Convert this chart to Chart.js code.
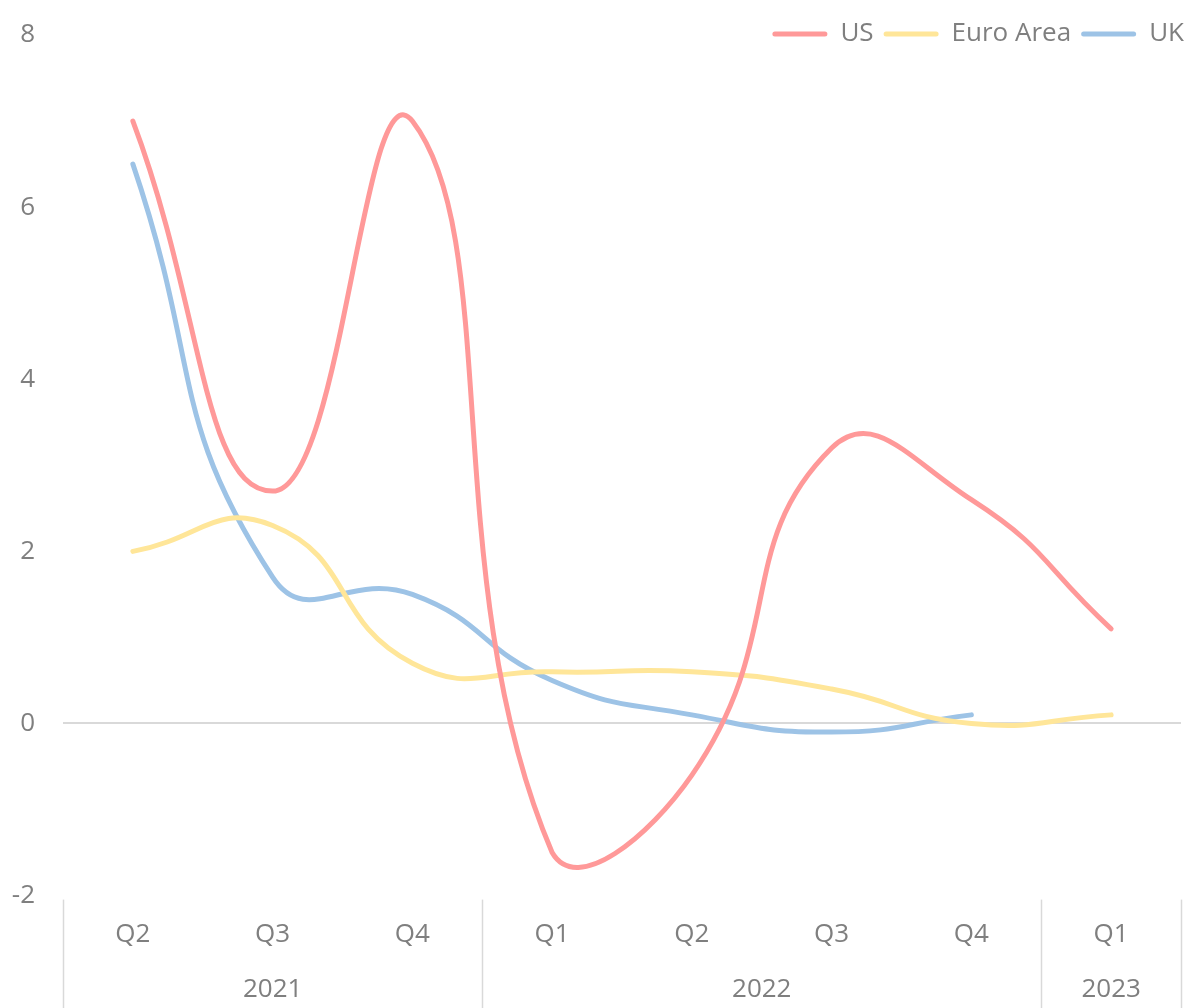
<!DOCTYPE html>
<html>
<head>
<meta charset="utf-8">
<script src="https://cdn.jsdelivr.net/npm/chart.js@4"></script>
<style>
  html, body { margin: 0; padding: 0; background: #fff; }
  #wrap { width: 1194px; height: 1008px; }
</style>
</head>
<body>
<div id="wrap"><canvas id="gdpChart"></canvas></div>
<script>
// quarters and the year groups they belong to
const quarters = ['Q2', 'Q3', 'Q4', 'Q1', 'Q2', 'Q3', 'Q4', 'Q1'];
const years = ['2021', '2022', '2023'];
const yearSizes = [3, 4, 1];

// growth, % (annualised)
const usValues = [7.0, 2.7, 7.0, -1.5, -0.6, 3.2, 2.6, 1.1];
const euroValues = [2.0, 2.3, 0.7, 0.6, 0.6, 0.4, 0.0, 0.1];
const ukValues = [6.5, 1.7, 1.5, 0.5, 0.1, -0.1, 0.1, null];

const yTicks = [-2, 0, 2, 4, 6, 8];

const textColor = '#7f7f7f';
const lineColor = '#d9d9d9';
const fontFamily = '"Open Sans", "Noto Sans", sans-serif';
const fontSize = 26;

// centres and edges of each year group, in category units
let yearCentres = [];
let yearEdges = [-0.5];
let start = 0;
yearSizes.forEach(n => {
    yearCentres.push(start + (n - 1) / 2);
    start += n;
    yearEdges.push(start - 0.5);
});

// vertical separators between the year groups, below the plot
const separators = {
    id: 'separators',
    afterDraw(chart) {
        const x = chart.scales.x;
        const ctx = chart.ctx;
        ctx.save();
        ctx.strokeStyle = lineColor;
        ctx.lineWidth = 1.5;
        yearEdges.forEach(e => {
            const px = Math.round(x.getPixelForValue(e)) + 0.5;
            ctx.beginPath();
            ctx.moveTo(px, chart.chartArea.bottom + 4);
            ctx.lineTo(px, chart.height);
            ctx.stroke();
        });
        ctx.restore();
    }
};

// let the legend sit beside the top of the plot instead of above it
const legendOverlap = {
    id: 'legendOverlap',
    beforeInit(chart) {
        const fit = chart.legend.fit;
        chart.legend.fit = function () {
            fit.call(this);
            this._fullHeight = this.height;
            this.height = 27;
        };
    },
    afterLayout(chart) {
        const lg = chart.legend;
        lg.top = 11;
        lg.height = lg._fullHeight;
        lg.bottom = lg.top + lg.height;
    }
};

function makeSet(label, data, color) {
    return {
        label: label,
        data: data,
        borderColor: color,
        backgroundColor: color,
        borderWidth: 5,
        borderCapStyle: 'round',
        pointRadius: 0,
        tension: 0.5,
        fill: false
    };
}

const config = {
    type: 'line',
    data: {
        labels: quarters,
        datasets: [
            makeSet('US', usValues, '#ff9999'),
            makeSet('Euro Area', euroValues, '#ffe699'),
            makeSet('UK', ukValues, '#9dc3e6')
        ]
    },
    options: {
        responsive: true,
        maintainAspectRatio: false,
        animation: false,
        layout: { padding: { left: 0, right: 0, top: 8, bottom: 2 } },
        plugins: {
            legend: {
                position: 'top',
                align: 'end',
                labels: {
                    boxWidth: 55,
                    boxHeight: 5,
                    useBorderRadius: true,
                    borderRadius: 2.5,
                    padding: 10,
                    color: textColor,
                    font: { family: fontFamily, size: fontSize },
                    generateLabels(chart) {
                        const items = Chart.defaults.plugins.legend.labels.generateLabels(chart);
                        items.forEach(i => { i.lineWidth = 0; });
                        return items;
                    }
                }
            },
            tooltip: { enabled: false }
        },
        scales: {
            y: {
                min: -2,
                max: 8,
                afterBuildTicks(scale) {
                    scale.ticks = yTicks.map(v => ({ value: v }));
                },
                afterFit(scale) {
                    scale.width = 63;
                    scale.paddingTop = 16;
                    scale.paddingBottom = 16;
                },
                grid: {
                    drawTicks: false,
                    color: ctx => ctx.tick && ctx.tick.value === 0 ? lineColor : 'transparent',
                    lineWidth: 2
                },
                border: { display: false },
                ticks: {
                    padding: 28,
                    color: textColor,
                    font: { family: fontFamily, size: fontSize }
                }
            },
            // empty strip on the right, keeps the plot off the edge
            yRight: {
                position: 'right',
                grid: { display: false, drawTicks: false },
                border: { display: false },
                ticks: { display: false },
                afterFit(scale) {
                    scale.width = 13;
                    scale.paddingTop = 0;
                    scale.paddingBottom = 0;
                }
            },
            x: {
                position: 'bottom',
                offset: true,
                grid: { display: false, drawTicks: false },
                border: { display: false },
                ticks: {
                    padding: 23,
                    autoSkip: false,
                    maxRotation: 0,
                    color: textColor,
                    font: { family: fontFamily, size: fontSize }
                }
            },
            xYear: {
                type: 'linear',
                position: 'bottom',
                min: -0.5,
                max: quarters.length - 0.5,
                afterBuildTicks(scale) {
                    scale.ticks = yearCentres.map(v => ({ value: v }));
                },
                grid: { display: false, drawTicks: false },
                border: { display: false },
                ticks: {
                    padding: 1,
                    autoSkip: false,
                    maxRotation: 0,
                    color: textColor,
                    font: { family: fontFamily, size: fontSize },
                    callback: (value, index) => years[index]
                }
            }
        }
    },
    plugins: [separators, legendOverlap]
};

const gdpChart = new Chart(document.getElementById('gdpChart'), config);
</script>
</body>
</html>
